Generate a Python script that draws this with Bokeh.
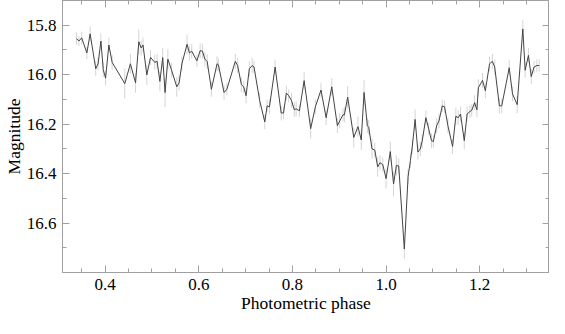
from bokeh.plotting import figure
from bokeh.models import (Range1d, LinearAxis, SingleIntervalTicker, PrintfTickFormatter,
                          CustomJSTickFormatter, ColumnDataSource)
from bokeh.embed import file_html
from bokeh.resources import INLINE

phase = [0.339, 0.344, 0.350, 0.361, 0.368, 0.380, 0.385, 0.391, 0.396, 0.401,
         0.408, 0.415, 0.442, 0.454, 0.465, 0.472, 0.477, 0.481, 0.489, 0.497,
         0.506, 0.511, 0.517, 0.523, 0.528, 0.534, 0.542, 0.553, 0.558, 0.564,
         0.575, 0.580, 0.585, 0.596, 0.603, 0.608, 0.613, 0.618, 0.627, 0.639,
         0.642, 0.654, 0.660, 0.678, 0.683, 0.691, 0.696, 0.701, 0.708, 0.714,
         0.718, 0.730, 0.741, 0.746, 0.751, 0.763, 0.776, 0.781, 0.787, 0.792,
         0.798, 0.804, 0.808, 0.815, 0.825, 0.839, 0.849, 0.861, 0.872, 0.884,
         0.896, 0.901, 0.908, 0.911, 0.918, 0.931, 0.940, 0.947, 0.953, 0.960,
         0.963, 0.970, 0.976, 0.982, 0.987, 0.993, 1.000, 1.009, 1.016, 1.022,
         1.027, 1.039, 1.047, 1.052, 1.056, 1.062, 1.068, 1.073, 1.077, 1.085,
         1.091, 1.097, 1.101, 1.108, 1.113, 1.120, 1.125, 1.132, 1.142, 1.149,
         1.154, 1.159, 1.167, 1.173, 1.179, 1.183, 1.189, 1.194, 1.197, 1.206,
         1.212, 1.221, 1.227, 1.232, 1.242, 1.247, 1.263, 1.270, 1.280, 1.292,
         1.297, 1.304, 1.310, 1.316, 1.322, 1.327]

magnitude = [15.854, 15.864, 15.851, 15.912, 15.835, 15.976, 15.956, 15.864, 15.980, 16.014,
             15.880, 15.950, 16.036, 15.956, 16.033, 15.867, 15.892, 15.880, 16.001, 15.930,
             15.950, 15.946, 16.027, 15.931, 16.072, 15.937, 15.982, 16.049, 16.033, 15.956,
             15.877, 15.912, 15.905, 15.944, 15.903, 15.905, 15.937, 15.947, 16.059, 15.956,
             15.960, 16.072, 16.059, 15.946, 15.963, 16.040, 16.049, 16.085, 15.976, 15.963,
             15.969, 16.104, 16.191, 16.126, 16.130, 15.969, 16.155, 16.155, 16.074, 16.085,
             16.104, 16.142, 16.138, 16.146, 16.024, 16.218, 16.130, 16.062, 16.174, 16.049,
             16.206, 16.187, 16.162, 16.162, 16.091, 16.254, 16.210, 16.264, 16.072, 16.206,
             16.213, 16.300, 16.305, 16.373, 16.356, 16.364, 16.420, 16.311, 16.442, 16.367,
             16.369, 16.705, 16.412, 16.347, 16.290, 16.181, 16.313, 16.300, 16.270, 16.174,
             16.219, 16.267, 16.270, 16.206, 16.187, 16.126, 16.130, 16.206, 16.290, 16.168,
             16.174, 16.159, 16.267, 16.159, 16.149, 16.144, 16.113, 16.142, 16.053, 16.023,
             16.065, 15.956, 15.946, 15.969, 16.126, 16.126, 15.972, 16.078, 16.121, 15.815,
             15.982, 15.922, 16.008, 15.969, 15.963, 15.963]

error = [0.025, 0.020, 0.025, 0.025, 0.030, 0.030, 0.025, 0.030, 0.030, 0.030,
         0.030, 0.030, 0.060, 0.040, 0.040, 0.050, 0.030, 0.030, 0.040, 0.030,
         0.030, 0.030, 0.040, 0.040, 0.060, 0.040, 0.030, 0.040, 0.030, 0.030,
         0.040, 0.030, 0.030, 0.025, 0.030, 0.030, 0.030, 0.030, 0.030, 0.030,
         0.025, 0.030, 0.025, 0.030, 0.030, 0.030, 0.025, 0.030, 0.030, 0.030,
         0.025, 0.030, 0.030, 0.025, 0.030, 0.030, 0.030, 0.025, 0.030, 0.025,
         0.030, 0.030, 0.030, 0.025, 0.035, 0.040, 0.030, 0.030, 0.030, 0.035,
         0.030, 0.030, 0.025, 0.030, 0.045, 0.040, 0.040, 0.040, 0.050, 0.030,
         0.030, 0.040, 0.030, 0.040, 0.030, 0.030, 0.040, 0.040, 0.050, 0.040,
         0.030, 0.040, 0.030, 0.030, 0.030, 0.040, 0.030, 0.030, 0.030, 0.030,
         0.025, 0.030, 0.025, 0.030, 0.030, 0.025, 0.025, 0.030, 0.030, 0.035,
         0.030, 0.030, 0.035, 0.030, 0.025, 0.025, 0.030, 0.030, 0.035, 0.030,
         0.030, 0.030, 0.030, 0.030, 0.030, 0.030, 0.030, 0.030, 0.035, 0.035,
         0.030, 0.030, 0.030, 0.025, 0.025, 0.025]

lower = [m - e for m, e in zip(magnitude, error)]
upper = [m + e for m, e in zip(magnitude, error)]

src = ColumnDataSource(dict(x=phase, y=magnitude, lo=lower, hi=upper))

FONT = "Liberation Serif"
FRAME = "#a0a0a0"

p = figure(width=549, height=318, output_backend="svg", toolbar_location=None,
           x_range=Range1d(0.309, 1.349), y_range=Range1d(16.7999, 15.7),
           min_border_left=62, min_border_right=0, min_border_top=0, min_border_bottom=46,
           x_axis_label="Photometric phase", y_axis_label="Magnitude")
p.grid.visible = False
p.outline_line_color = FRAME
p.background_fill_color = "white"
p.border_fill_color = "white"

p.segment(x0="x", y0="lo", x1="x", y1="hi", source=src, line_color="#d4d4d4", line_width=1)
p.line(x="x", y="y", source=src, line_color="#444444", line_width=1)

def style(ax, interval, nminor, labels=True):
    ax.ticker = SingleIntervalTicker(interval=interval, num_minor_ticks=nminor)
    ax.axis_line_color = FRAME
    ax.major_tick_line_color = FRAME
    ax.minor_tick_line_color = FRAME
    ax.major_tick_in = 7
    ax.major_tick_out = 0
    ax.minor_tick_in = 4
    ax.minor_tick_out = 0
    if labels:
        ax.formatter = PrintfTickFormatter(format="%.1f")
        ax.major_label_text_font = FONT
        ax.major_label_text_font_size = "17px"
        ax.major_label_text_color = "black"
        ax.major_label_standoff = 6
        ax.axis_label_text_font = FONT
        ax.axis_label_text_font_size = "17.5px"
        ax.axis_label_text_font_style = "normal"
        ax.axis_label_text_color = "black"
        ax.axis_label_standoff = 0
    else:
        ax.formatter = CustomJSTickFormatter(code="return '';")
        ax.major_label_standoff = 0
        ax.axis_label = None
        ax.axis_label_standoff = 0
        ax.major_label_text_font_size = "1px"

style(p.xaxis[0], 0.2, 4)
style(p.yaxis[0], 0.2, 2)

top = LinearAxis()
style(top, 0.2, 4, labels=False)
p.add_layout(top, "above")
right = LinearAxis()
style(right, 0.2, 2, labels=False)
p.add_layout(right, "right")

open("out.html", "w").write(file_html(p, INLINE))
